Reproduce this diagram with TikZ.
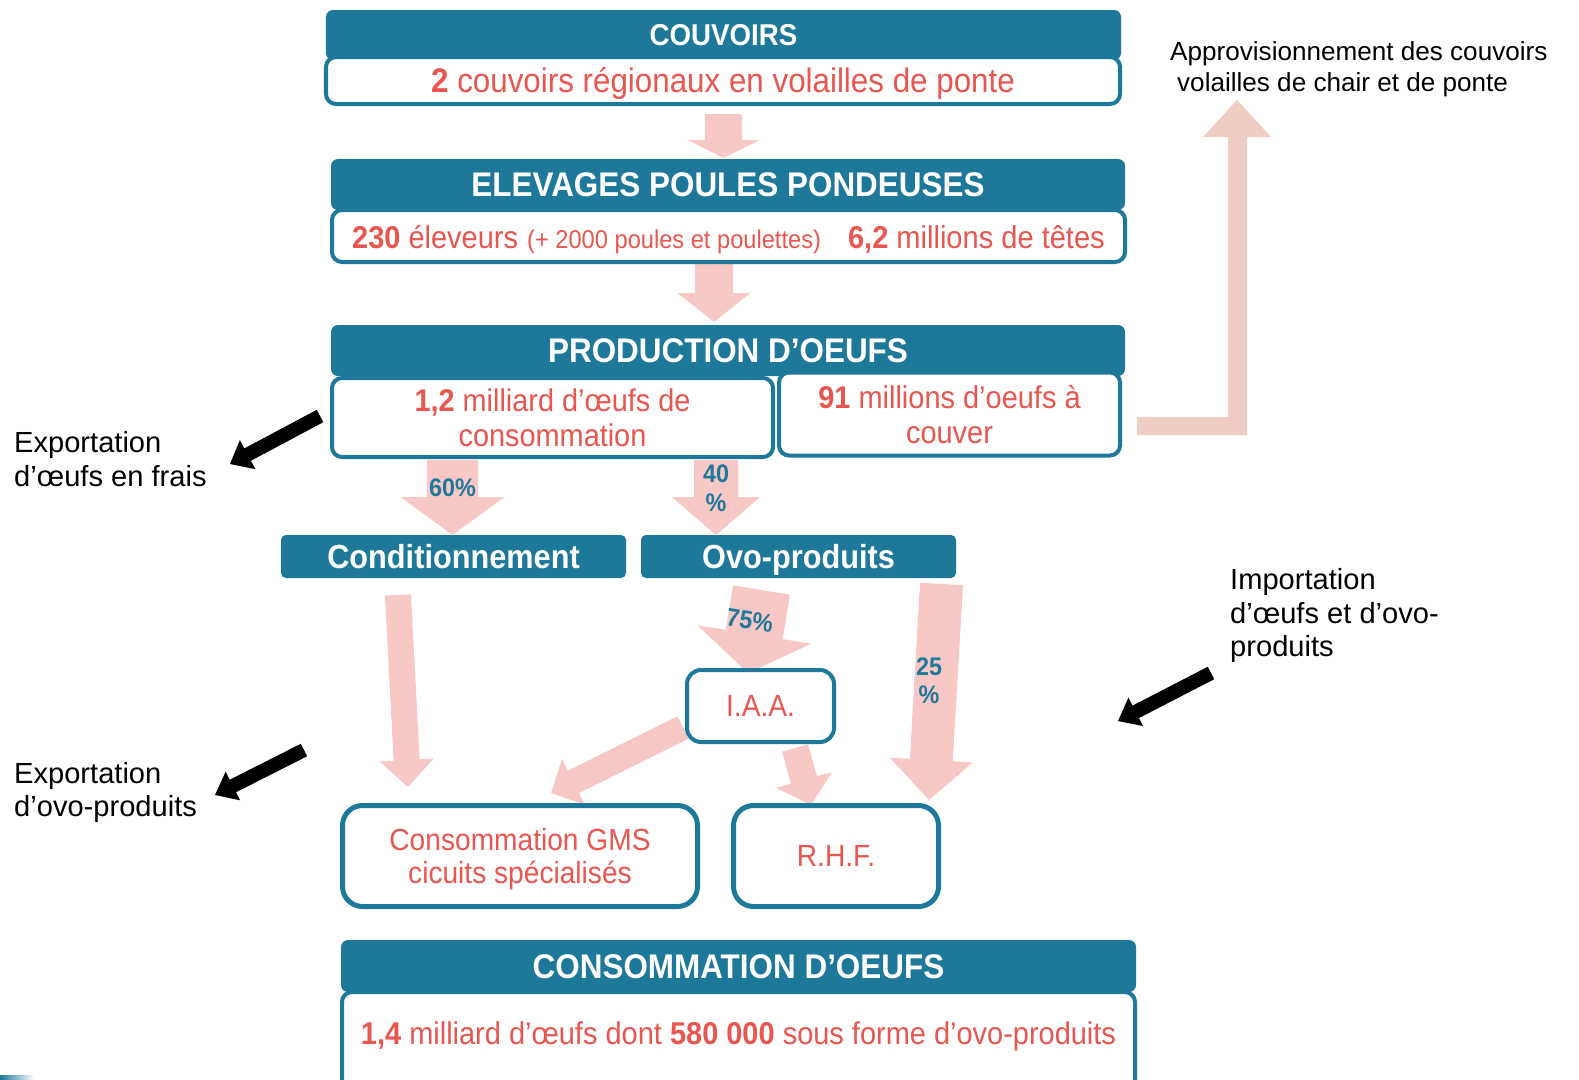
\documentclass[tikz,border=0pt]{standalone}
\usepackage{fontspec}
\setmainfont{Liberation Sans}
\newfontfamily\cf{Liberation Sans}[FakeStretch=0.92]
\usetikzlibrary{calc}
\definecolor{teal1}{HTML}{1E7899}
\definecolor{redt}{HTML}{E9564F}
\definecolor{pinkA}{HTML}{F8C8C6}
\definecolor{pinkB}{HTML}{EFCDC5}
% block arrow: #1 colour, #2 tail, #3 tip, #4 shaft half width, #5 head half width, #6 head length
\newcommand\blockarr[6]{%
  \coordinate (ba-b) at ($(#3)!#6!(#2)$);%
  \fill[#1] ($(#2)!#4!90:(#3)$) -- ($(ba-b)!#4!90:(#3)$) -- ($(ba-b)!#5!90:(#3)$) -- (#3)
    -- ($(ba-b)!#5!-90:(#3)$) -- ($(ba-b)!#4!-90:(#3)$) -- ($(#2)!#4!-90:(#3)$) -- cycle;}
\tikzset{
  hdr/.style={fill=teal1, rounded corners=7bp, text=white, inner sep=0,
    font=\cf\bfseries\fontsize{34.3}{40}\selectfont, text height=24.6, text depth=0},
  hdrS/.style={hdr, font=\cf\bfseries\fontsize{30.2}{36}\selectfont, text height=21.6},
  bodybox/.style={draw=teal1, line width=4bp, fill=white, rounded corners=10bp, inner sep=0,
    text=redt, align=center},
  tealbox/.style={fill=teal1, rounded corners=5bp, text=white, inner sep=0,
    font=\cf\bfseries\fontsize{33.5}{40}\selectfont, text height=24, text depth=0},
  pct/.style={text=teal1, inner sep=0, font=\cf\bfseries\fontsize{25.5}{29}\selectfont,
    text height=18.3, text depth=0},
  redtxt/.style={text=redt, inner sep=0},
  blk/.style={inner sep=0, align=left, font=\fontsize{29.2}{34}\selectfont},
}
\begin{document}
\begin{tikzpicture}[x=1bp,y=-1bp]
\useasboundingbox (0,0) rectangle (1579,1079);
\shade[left color=teal1, right color=white] (0,1075) rectangle (34,1079);

% ---- named end points of the connectors
\coordinate (a1t) at (723.5,114);  \coordinate (a1h) at (723.5,158);
\coordinate (a2t) at (714,264);    \coordinate (a2h) at (714,322);
\coordinate (a60t) at (452.5,460); \coordinate (a60h) at (452.5,535);
\coordinate (a40t) at (716,460);   \coordinate (a40h) at (716,535);
\coordinate (a75t) at (761.5,590); \coordinate (a75h) at (748,673);
\coordinate (a25t) at (941.5,584); \coordinate (a25h) at (929,800);
\coordinate (acT) at (398,595);    \coordinate (acH) at (408,787);
\coordinate (airT) at (795,748);   \coordinate (airH) at (811,805);
\coordinate (aigT) at (683,727.5); \coordinate (aigH) at (551,793);
\coordinate (efT) at (320,416);    \coordinate (efH) at (230,464);
\coordinate (eoT) at (304,750);    \coordinate (eoH) at (215,795);
\coordinate (imT) at (1211,673);   \coordinate (imH) at (1118,721);

% ---- pink flow arrows
\blockarr{pinkA}{a1t}{a1h}{18.5bp}{36bp}{18bp}
\blockarr{pinkA}{a2t}{a2h}{19bp}{36.5bp}{29bp}
\blockarr{pinkA}{a60t}{a60h}{25.5bp}{52bp}{38bp}
\blockarr{pinkA}{a40t}{a40h}{22bp}{44bp}{38bp}
\blockarr{pinkA}{a75t}{a75h}{28.8bp}{57.5bp}{39bp}
\blockarr{pinkA}{a25t}{a25h}{21.5bp}{41.5bp}{40bp}
\blockarr{pinkA}{acT}{acH}{13bp}{27bp}{27bp}
\blockarr{pinkA}{airT}{airH}{13.5bp}{29bp}{26bp}
\blockarr{pinkA}{aigT}{aigH}{12.5bp}{25.5bp}{25bp}

% ---- approvisionnement arrow
\coordinate (apS) at (1137,417);
\coordinate (apH) at (1237,100);
\fill[pinkB] (apS) -- (1228,417) -- (1228,137) -- (1203,137) -- (apH) -- (1271,137)
  -- (1247,137) -- (1247,435) -- (1137,435) -- cycle;

% ---- black arrows
\blockarr{black}{efT}{efH}{7bp}{16.5bp}{20bp}
\blockarr{black}{eoT}{eoH}{7bp}{16bp}{20bp}
\blockarr{black}{imT}{imH}{7bp}{16bp}{20bp}

% ---- COUVOIRS
\node[hdrS, minimum width=795bp, minimum height=50bp] (couvH) at (723.5,35) {COUVOIRS};
\node[bodybox, minimum width=794bp, minimum height=47bp, font=\cf\fontsize{34.2}{40}\selectfont,
  text height=24.5, text depth=0] (couvB) at (723,80.5) {\textbf{2} couvoirs régionaux en volailles de ponte};

% ---- ELEVAGES
\node[hdr, minimum width=794bp, minimum height=51bp] (elevH) at (728,184.5) {ELEVAGES POULES PONDEUSES};
\node[bodybox, minimum width=793bp, minimum height=52bp] (elevB) at (728.5,236) {};
\node[redtxt, anchor=base west, font=\cf\fontsize{31.6}{36}\selectfont] (elev1) at (352,248) {\textbf{230} éleveurs};
\node[redtxt, anchor=base west, font=\cf\fontsize{25.8}{30}\selectfont] (elev2) at (527,248) {(+ 2000 poules et poulettes)};
\node[redtxt, anchor=base east, font=\cf\fontsize{31.7}{36}\selectfont] (elev3) at (1105,248) {\textbf{6,2} millions de têtes};

% ---- PRODUCTION
\node[hdr, minimum width=794bp, minimum height=51bp] (prodH) at (728,350.5) {PRODUCTION D’OEUFS};
\node[bodybox, minimum width=441bp, minimum height=79bp, font=\cf\fontsize{31.5}{35}\selectfont,
  text depth=0] (prodL) at (552.5,417.5) {\textbf{1,2} milliard d’œufs de\\consommation};
\node[bodybox, minimum width=341bp, minimum height=83bp, font=\cf\fontsize{31.6}{35}\selectfont,
  text depth=0] (prodR) at (949.5,414) {\textbf{91} millions d’oeufs à\\couver};

% ---- percentages
\node[pct] (p60) at (452.5,487) {60\%};
\node[pct] (p40a) at (716,473.5) {40};
\node[pct] (p40b) at (716,502.5) {\%};
\node[pct, rotate=-9] (p75) at (750,620) {75\%};
\node[pct] (p25a) at (929,666) {25};
\node[pct] (p25b) at (929,694) {\%};

% ---- second level
\node[tealbox, minimum width=345bp, minimum height=43bp] (cond) at (453.5,556.5) {Conditionnement};
\node[tealbox, minimum width=315bp, minimum height=43bp] (ovo) at (798.5,556.5) {Ovo-produits};
\node[bodybox, rounded corners=14bp, minimum width=147bp, minimum height=72bp,
  font=\cf\fontsize{30.7}{33}\selectfont, text height=22, text depth=0] (iaa) at (760.5,706) {I.A.A.};
\node[bodybox, line width=5bp, rounded corners=20bp, minimum width=355bp, minimum height=101bp,
  font=\cf\fontsize{30.7}{33}\selectfont, text depth=0] (gms) at (520,856) {Consommation GMS\\cicuits spécialisés};
\node[bodybox, line width=5bp, rounded corners=20bp, minimum width=205bp, minimum height=101bp,
  font=\cf\fontsize{30.7}{33}\selectfont, text height=22, text depth=0] (rhf) at (836,856) {R.H.F.};

% ---- CONSOMMATION
\node[hdr, minimum width=795bp, minimum height=52bp] (consH) at (738.5,966) {CONSOMMATION D’OEUFS};
\node[bodybox, minimum width=793bp, minimum height=108bp] (consB) at (738.5,1046) {};
\node[redtxt, font=\cf\fontsize{31.6}{36}\selectfont, text height=22.6, text depth=0] (consT) at (738.5,1033)
  {\textbf{1,4} milliard d’œufs dont \textbf{580 000} sous forme d’ovo-produits};

% ---- side labels
\node[blk, anchor=west] (expF) at (14,459.5) {Exportation\\d’œufs en frais};
\node[blk, anchor=west] (expO) at (14,792.5) {Exportation\\d’ovo-produits};
\node[blk, anchor=west] (imp) at (1230,615.5) {Importation\\d’œufs et d’ovo-\\produits};
\node[blk, anchor=west, font=\fontsize{26.2}{31}\selectfont] (appro) at (1170,69)
  {Approvisionnement des couvoirs\\\hspace*{7pt}volailles de chair et de ponte};
\end{tikzpicture}
\end{document}
